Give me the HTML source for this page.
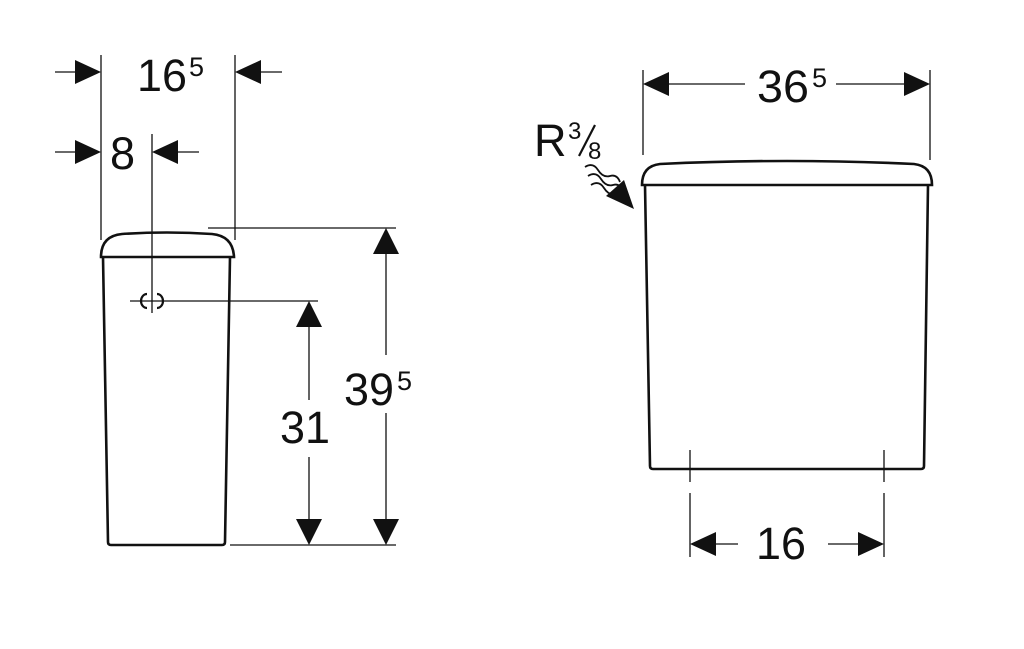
<!DOCTYPE html>
<html><head><meta charset="utf-8"><style>
html,body{margin:0;padding:0;background:#fff;width:1024px;height:649px;overflow:hidden}
text{font-family:"Liberation Sans",sans-serif;fill:#111}
</style></head><body>
<svg width="1024" height="649" viewBox="0 0 1024 649" xmlns="http://www.w3.org/2000/svg">
<g stroke="#111" fill="none">
<path d="M101,257 Q101,236 122,234 Q167,231 212,234 Q233,236 234,257 Z" stroke-width="2.6"/>
<path d="M103,257 L108,542 Q108,545 111,545 L222,545 Q225,545 225,542 L230,257" stroke-width="2.6"/>
<line x1="101" y1="55" x2="101" y2="240" stroke-width="1.3"/>
<line x1="235" y1="55" x2="235" y2="240" stroke-width="1.3"/>
<line x1="152" y1="134" x2="152" y2="313" stroke-width="1.3"/>
<line x1="55" y1="72" x2="80" y2="72" stroke-width="1.3"/>
<line x1="258" y1="72" x2="282" y2="72" stroke-width="1.3"/>
<line x1="55" y1="152" x2="80" y2="152" stroke-width="1.3"/>
<line x1="175" y1="152" x2="199" y2="152" stroke-width="1.3"/>
<line x1="208" y1="228" x2="396" y2="228" stroke-width="1.3"/>
<line x1="130" y1="301" x2="318" y2="301" stroke-width="1.3"/>
<line x1="230" y1="545" x2="396" y2="545" stroke-width="1.3"/>
<path d="M147,294 A6,7 0 0 0 147,308 M157,294 A6,7 0 0 1 157,308" stroke-width="2.2"/>
<line x1="309" y1="325" x2="309" y2="400" stroke-width="1.3"/>
<line x1="309" y1="457" x2="309" y2="520" stroke-width="1.3"/>
<line x1="386" y1="252" x2="386" y2="355" stroke-width="1.3"/>
<line x1="386" y1="413" x2="386" y2="520" stroke-width="1.3"/>
<path d="M642,185 Q642,166 660,164 Q787,158 914,164 Q932,166 932,185 Z" stroke-width="2.6"/>
<path d="M645,185 L650,466 Q650,469 653,469 L921,469 Q924,469 924,466 L928,185" stroke-width="2.6"/>
<line x1="643" y1="70" x2="643" y2="155" stroke-width="1.3"/>
<line x1="930" y1="70" x2="930" y2="160" stroke-width="1.3"/>
<line x1="668" y1="84" x2="745" y2="84" stroke-width="1.3"/>
<line x1="836" y1="84" x2="906" y2="84" stroke-width="1.3"/>
<line x1="690" y1="450" x2="690" y2="482" stroke-width="1.3"/>
<line x1="690" y1="493" x2="690" y2="557" stroke-width="1.3"/>
<line x1="884" y1="450" x2="884" y2="482" stroke-width="1.3"/>
<line x1="884" y1="493" x2="884" y2="557" stroke-width="1.3"/>
<line x1="714" y1="544" x2="738" y2="544" stroke-width="1.3"/>
<line x1="828" y1="544" x2="860" y2="544" stroke-width="1.3"/>
<path d="M585,167 q8,-5 13,3 t12,6 t10,6" stroke-width="1.8"/>
<path d="M588,176 q8,-5 13,3 t12,6 t10,6" stroke-width="1.8"/>
<path d="M591,185 q8,-5 13,3 t12,6 t10,6" stroke-width="1.8"/>
</g>
<g fill="#111">
<polygon points="75,60 101,72 75,84"/>
<polygon points="261,60 235,72 261,84"/>
<polygon points="75,140 101,152 75,164"/>
<polygon points="178,140 152,152 178,164"/>
<polygon points="296,327 309,301 322,327"/>
<polygon points="296,519 309,545 322,519"/>
<polygon points="373,254 386,228 399,254"/>
<polygon points="373,519 386,545 399,519"/>
<polygon points="669,72 643,84 669,96"/>
<polygon points="904,72 930,84 904,96"/>
<polygon points="716,532 690,544 716,556"/>
<polygon points="858,532 884,544 858,556"/>
<polygon points="606,196 624,180 634,209"/>
</g>
<g font-size="45">
<text x="137" y="91" textLength="50" lengthAdjust="spacingAndGlyphs">16</text><text x="189" y="76" font-size="27">5</text>
<text x="110" y="169">8</text>
<text x="280" y="443" textLength="50" lengthAdjust="spacingAndGlyphs">31</text>
<text x="344" y="405" textLength="50" lengthAdjust="spacingAndGlyphs">39</text><text x="397" y="390" font-size="27">5</text>
<text x="757" y="102" textLength="52" lengthAdjust="spacingAndGlyphs">36</text><text x="812" y="87" font-size="27">5</text>
<text x="534" y="156">R</text><text x="568" y="139" font-size="24">3</text>
<text x="756" y="559" textLength="50" lengthAdjust="spacingAndGlyphs">16</text>
<text x="588" y="159" font-size="24">8</text>
</g>
<line x1="579" y1="156" x2="595" y2="125" stroke="#111" stroke-width="2.2"/>
</svg>
</body></html>
